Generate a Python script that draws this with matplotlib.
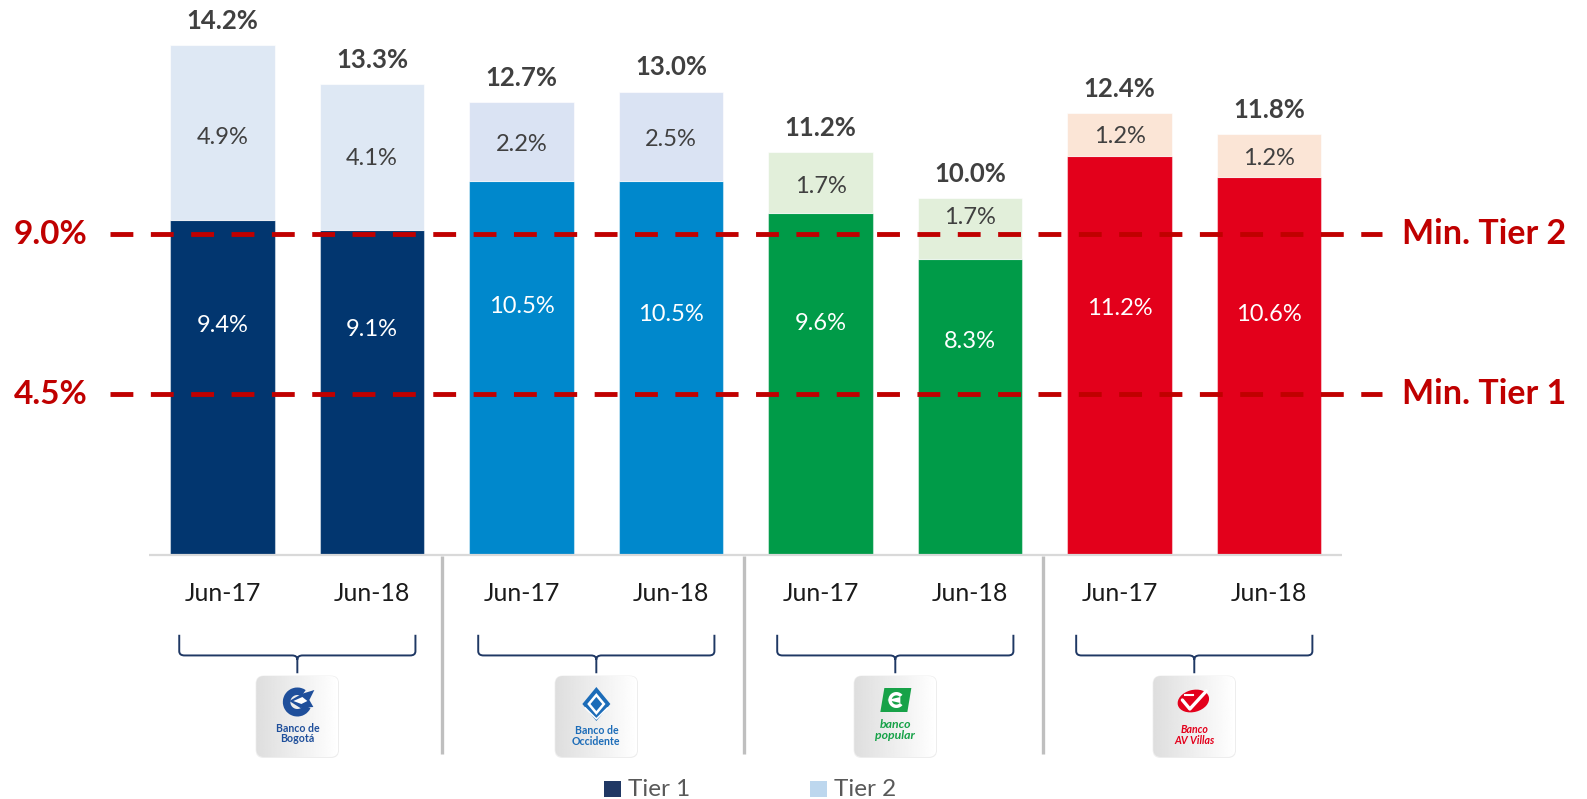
import numpy as np
import matplotlib.pyplot as plt
from matplotlib.patches import FancyBboxPatch, Polygon, Ellipse, Wedge, Rectangle, PathPatch
from matplotlib.path import Path

plt.rcParams['font.family'] = ['Lato', 'DejaVu Sans']

# ---- data -------------------------------------------------------------
periods = ["Jun-17", "Jun-18", "Jun-17", "Jun-18",
           "Jun-17", "Jun-18", "Jun-17", "Jun-18"]
banks = ["Banco de\nBogotá", "Banco de\nOccidente", "banco\npopular", "Banco\nAV Villas"]
tier1 = [9.4, 9.1, 10.5, 10.5, 9.6, 8.3, 11.2, 10.6]
tier2 = [4.9, 4.1, 2.2, 2.5, 1.7, 1.7, 1.2, 1.2]
total = [14.2, 13.3, 12.7, 13.0, 11.2, 10.0, 12.4, 11.8]
min_levels = [9.0, 4.5]
min_names = ["Min. Tier 2", "Min. Tier 1"]
legend_names = ["Tier 1", "Tier 2"]

# ---- styling ----------------------------------------------------------
tier1_colors = ["#02366F", "#0088CC", "#009B48", "#E3001B"]
tier2_colors = ["#DEE8F4", "#DAE3F3", "#E2EFDA", "#FBE5D6"]
logo_colors = ["#1F4F9B", "#1C6CB8", "#17A248", "#E3001B"]
red = "#C00000"
W, H = 1587, 799

# label heights inside the segments (in % units)
tier1_label_y = [6.42, 6.31, 6.96, 6.73, 6.48, 5.97, 6.90, 6.73]
tier2_label_y = [11.70, 11.11, 11.51, 11.65, 10.34, 9.46, 11.73, 11.11]
separators = [1.47, 3.49, 5.49]

fig = plt.figure(figsize=(W / 100, H / 100), dpi=100)
ax = fig.add_axes([0, 0, 1, 1])
ax.set_xlim(-1.489, 9.127)
ax.set_ylim(-6.86, 15.57)
ax.axis('off')

x = np.arange(len(tier1))
bank_idx = x // 2
c1 = [tier1_colors[b] for b in bank_idx]
c2 = [tier2_colors[b] for b in bank_idx]
bw = 0.70

ax.bar(x, tier1, bw, color=c1, edgecolor=(1, 1, 1, 0.45), linewidth=0.8, zorder=2)
ax.bar(x, tier2, bw, bottom=tier1, color=c2, edgecolor=(1, 1, 1, 0.6),
       linewidth=0.8, zorder=2)

# baseline
ax.plot([-0.49, 7.49], [0, 0], color="#D9D9D9", lw=1.6, zorder=3,
        solid_capstyle='butt')

# group separators
for sx in separators:
    ax.plot([sx, sx], [-0.05, -5.6], color="#BFBFBF", lw=2.4, zorder=1,
            solid_capstyle='butt')

# value labels
for i in x:
    ax.text(i, tier1_label_y[i], f"{tier1[i]:.1f}%", ha='center', va='center',
            fontsize=17, color='white', zorder=4)
    ax.text(i, tier2_label_y[i], f"{tier2[i]:.1f}%", ha='center', va='center',
            fontsize=17, color='#404040', zorder=4)
    ax.text(i, tier1[i] + tier2[i] + 0.68, f"{total[i]:.1f}%", ha='center',
            va='center', fontsize=18.5, fontweight='bold', color='#404040', zorder=4)
    ax.text(i, -1.1, periods[i], ha='center', va='center', fontsize=18,
            color='#1A1A1A')

# regulatory minimums
for lvl, name in zip(min_levels, min_names):
    ax.plot([-0.753, 7.755], [lvl, lvl], color=red, lw=3.5, dashes=(4.7, 3.6),
            zorder=5)
    ax.text(-0.905, lvl, f"{lvl:.1f}%", ha='right', va='center', fontsize=24,
            fontweight='bold', color=red)
    ax.text(7.889, lvl, name, ha='left', va='center', fontsize=24.5,
            fontweight='bold', color=red)

# braces under each bank
brace_col = "#1F3864"
for g in range(4):
    c = 2 * g + 0.5
    xl, xr = c - 0.79, c + 0.79
    yt, yh, yb = -2.25, -2.83, -3.33
    dx, dy = 0.035, 0.12
    verts = [(xl, yt), (xl, yh + dy), (xl, yh), (xl + dx, yh),
             (c - dx, yh), (c, yh), (c, yh - dy),
             (c, yb),
             (c, yh - dy), (c, yh), (c + dx, yh),
             (xr - dx, yh), (xr, yh), (xr, yh + dy), (xr, yt)]
    codes = [Path.MOVETO, Path.LINETO, Path.CURVE3, Path.CURVE3,
             Path.LINETO, Path.CURVE3, Path.CURVE3,
             Path.LINETO,
             Path.MOVETO, Path.CURVE3, Path.CURVE3,
             Path.LINETO, Path.CURVE3, Path.CURVE3, Path.LINETO]
    ax.add_patch(PathPatch(Path(verts, codes), fc='none', ec=brace_col, lw=1.4))

# bank logos
x0_px, step_px = 222.6, 149.5
for g in range(4):
    cx = x0_px + (2 * g + 0.5) * step_px
    lax = fig.add_axes([(cx - 42) / W, 41 / H, 84 / W, 83 / H])
    lax.set_xlim(0, 84)
    lax.set_ylim(0, 83)
    lax.axis('off')
    shadow = FancyBboxPatch((0.3, 0.0), 83.4, 82.4,
                            boxstyle="round,pad=0,rounding_size=8",
                            fc="#EDEDED", ec='none', zorder=0)
    lax.add_patch(shadow)
    box = FancyBboxPatch((1, 1), 82, 81, boxstyle="round,pad=0,rounding_size=8",
                         fc='none', ec='none', zorder=1)
    lax.add_patch(box)
    grad = np.linspace(0.87, 1.0, 120)[None, :]
    im = lax.imshow(grad, cmap='gray', vmin=0, vmax=1, extent=(1, 83, 1, 82),
                    aspect='auto', zorder=1)
    im.set_clip_path(box)
    col = logo_colors[g]
    if g == 0:
        lax.add_patch(Wedge((42, 56), 14.5, 55, 335, width=7.5, fc=col, ec='none', zorder=2))
        lax.add_patch(Polygon([(34, 57), (46, 64), (59, 68), (54, 58), (58, 51),
                               (45, 50)], closed=True, fc=col, ec='none', zorder=2))
        lax.add_patch(Polygon([(38, 57), (47, 61), (52, 57), (46, 54)], closed=True,
                              fc='white', ec='none', zorder=3))
        lax.text(42, 24.5, banks[g], ha='center', va='center', fontsize=7.6,
                 fontweight='bold', color=col, linespacing=1.0, zorder=3)
    elif g == 1:
        lax.add_patch(Polygon([(42, 71), (56, 54), (42, 37), (28, 54)], closed=True,
                              fc=col, ec='none', zorder=2))
        lax.add_patch(Polygon([(42, 63), (49.5, 54), (42, 45), (34.5, 54)], closed=True,
                              fc='none', ec='white', lw=1.8, zorder=3))
        lax.plot([31, 42, 53], [50, 39, 50], color='white', lw=1.1, zorder=3)
        lax.text(42, 22, banks[g], ha='center', va='center', fontsize=7.6,
                 fontweight='bold', color=col, linespacing=1.0, zorder=3)
    elif g == 2:
        lax.add_patch(Polygon([(31, 70), (58, 70), (54, 46), (27, 46)], closed=True,
                              fc=col, ec='none', zorder=2))
        lax.add_patch(Wedge((43, 58), 8, 40, 320, width=3.4, fc='white',
                            ec='none', zorder=3))
        lax.add_patch(Polygon([(34, 58), (47, 61), (47, 55)], closed=True,
                              fc='white', ec='none', zorder=3))
        lax.text(42, 28, banks[g], ha='center', va='center', fontsize=8.8,
                 fontweight='bold', fontstyle='italic', color=col,
                 linespacing=1.0, zorder=3)
    else:
        lax.add_patch(Ellipse((41, 57), 32, 22, angle=15, fc=col, ec='none', zorder=2))
        lax.plot([30, 37.5, 54], [58, 49, 67], color='white', lw=2.4,
                 solid_capstyle='round', zorder=3)
        lax.plot([33, 41], [63, 63], color='white', lw=1.5, zorder=3)
        lax.text(42, 23, banks[g], ha='center', va='center', fontsize=7.6,
                 fontweight='bold', fontstyle='italic', color=col,
                 linespacing=1.0, zorder=3)

# legend
leg_colors = ["#203864", "#BDD7EE"]
leg_sq_x = [604, 810]
for name, colr, sx in zip(legend_names, leg_colors, leg_sq_x):
    fig.patches.append(Rectangle((sx / W, 1 - 797 / H), 17 / W, 16 / H,
                                 transform=fig.transFigure, fc=colr, ec='none'))
    fig.text((sx + 24) / W, 1 - 790 / H, name, ha='left', va='center',
             fontsize=17.5, color='#595959')

fig.savefig("out.png", dpi=100)
